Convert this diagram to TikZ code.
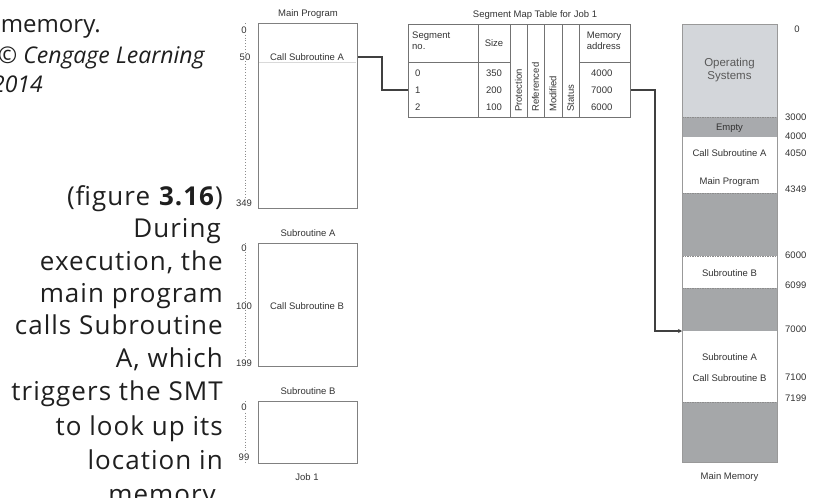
\documentclass[tikz,border=0pt]{standalone}
\usepackage{fontspec}
\setmainfont{Liberation Sans}
\newfontfamily\capfont[LetterSpace=4]{Open Sans}
\newfontfamily\topfont{Open Sans}
\usetikzlibrary{arrows.meta}
\definecolor{osgray}{HTML}{D3D6DA}
\definecolor{emptygray}{HTML}{A8AAAD}
\definecolor{freegray}{HTML}{A5A7A9}
\begin{document}
\begin{tikzpicture}[x=1pt,y=-1pt,
  dtxt/.style={font=\fontsize{9.5}{11}\selectfont, text=black!80, inner sep=1pt},
  captxt/.style={font=\capfont\fontsize{26}{30}\selectfont, anchor=base east, inner sep=0pt, text=black!88},
  capit/.style={font=\topfont\itshape\fontsize{23}{26}\selectfont, inner sep=0pt, text=black!88},
  pbox/.style={draw=black!50, line width=1.2pt, anchor=north west, inner sep=0pt, minimum width=99pt},
  axisline/.style={draw=black!45, dotted, line width=0.9pt},
  ticklbl/.style={dtxt, fill=white, inner sep=0.6pt},
  conn/.style={draw=black!75, line width=1.2pt},
  memlbl/.style={dtxt, anchor=west},
  faintline/.style={draw=black!15, line width=0.5pt},
  rotlbl/.style={dtxt, rotate=90, anchor=west},
  gridl/.style={draw=black!55, line width=0.8pt}
]
\useasboundingbox (0,0) rectangle (817,498);

% ---------- caption text ----------
\node[font=\topfont\fontsize{24}{28}\selectfont, anchor=base east, inner sep=0pt, text=black!88] (m0) at (101,32) {memory.};
\node[capit, anchor=base west] (m1) at (-2,63) {© Cengage Learning};
\node[capit, anchor=base east] (m2) at (43,92) {2014};

\node[captxt] (c0) at (223,205) {(figure \textbf{3.16})};
\node[captxt] (c1) at (221,237) {During};
\node[captxt] (c2) at (223,270) {execution, the};
\node[captxt] (c3) at (223,302) {main program};
\node[captxt] (c4) at (223,334) {calls Subroutine};
\node[captxt] (c5) at (223,367) {A, which};
\node[captxt] (c6) at (223,400) {triggers the SMT};
\node[captxt] (c7) at (223,435) {to look up its};
\node[captxt] (c8) at (223,469) {location in};
\node[captxt] (c9) at (223,503) {memory.};

% ---------- Job 1 programs ----------
% Main Program
\node[dtxt] (mptitle) at (308,14) {Main Program};
\draw[axisline] (245,23) -- (245,207);
\node[pbox, minimum height=185pt] (mp) at (258,23) {};
\draw[faintline] (259,62) -- (356,62);
\node[ticklbl] (mp0) at (244,30) {0};
\node[ticklbl] (mp50) at (245,57) {50};
\node[ticklbl] (mp349) at (244,203) {349};
\node[dtxt] (callA) at (307,57) {Call Subroutine A};

% Subroutine A
\node[dtxt] (satitle) at (308,233) {Subroutine A};
\draw[axisline] (245,243) -- (245,366);
\node[pbox, minimum height=123pt] (sa) at (258,243) {};
\node[ticklbl] (sa0) at (244,248) {0};
\node[ticklbl] (sa100) at (244,306) {100};
\node[ticklbl] (sa199) at (244,363) {199};
\node[dtxt] (callB) at (307,306) {Call Subroutine B};

% Subroutine B
\node[dtxt] (sbtitle) at (308,391) {Subroutine B};
\draw[axisline] (245,401) -- (245,463);
\node[pbox, minimum height=62pt] (sb) at (258,401) {};
\node[ticklbl] (sb0) at (244,407) {0};
\node[ticklbl] (sb99) at (244,457) {99};
\node[dtxt] (job) at (307,477) {Job 1};

% ---------- Segment Map Table ----------
\node[dtxt] (smttitle) at (535,15) {Segment Map Table for Job 1};
\node[draw=black!55, line width=1pt, anchor=north west, inner sep=0pt,
      minimum width=222pt, minimum height=93pt] (smt) at (408,24) {};
\foreach \cx in {478,510,527,544,562,579}
  \draw[gridl] (\cx,24) -- (\cx,117);
\draw[gridl] (408,62) -- (510,62);
\draw[gridl] (579,62) -- (630,62);

\node[dtxt, anchor=west, align=left] (hseg) at (411,41) {Segment\\no.};
\node[dtxt] (hsize) at (494,43) {Size};
\node[dtxt, align=left] (hmem) at (604,41) {Memory\\address};
\node[rotlbl] (hprot) at (518.5,113) {Protection};
\node[rotlbl] (href) at (535.5,113) {Referenced};
\node[rotlbl] (hmod) at (553,113) {Modified};
\node[rotlbl] (hstat) at (570.5,113) {Status};

\node[dtxt, anchor=west] (r0) at (414,73) {0};
\node[dtxt, anchor=west] (r1) at (414,90) {1};
\node[dtxt, anchor=west] (r2) at (414,107) {2};
\node[dtxt] (s0) at (494,73) {350};
\node[dtxt] (s1) at (494,90) {200};
\node[dtxt] (s2) at (494,107) {100};
\node[dtxt, anchor=west] (a0) at (590,73) {4000};
\node[dtxt, anchor=west] (a1) at (590,90) {7000};
\node[dtxt, anchor=west] (a2) at (590,107) {6000};

% ---------- Main Memory ----------
\fill[osgray] (682,24) rectangle (777,117);
\fill[emptygray] (682,117) rectangle (777,137);
\fill[white] (682,137) rectangle (777,193);
\fill[freegray] (682,193) rectangle (777,256);
\fill[white] (682,256) rectangle (777,288);
\fill[freegray] (682,288) rectangle (777,331);
\fill[white] (682,331) rectangle (777,402);
\fill[freegray] (682,402) rectangle (777,462);
\foreach \yy in {117,193,256,288,402}
  \draw[black!45, line width=0.6pt, dash pattern=on 1.5pt off 1pt] (682,\yy) -- (777,\yy);
\node[draw=black!40, line width=0.8pt, anchor=north west, inner sep=0pt,
      minimum width=95pt, minimum height=438pt] (mem) at (682,24) {};

\node[dtxt, font=\fontsize{11.5}{13}\selectfont, text=black!65, align=center] (os) at (729.5,70) {Operating\\Systems};
\node[dtxt] (empty) at (729.5,128) {Empty};
\node[dtxt] (mcallA) at (729.5,153) {Call Subroutine A};
\node[dtxt] (mmain) at (729.5,182) {Main Program};
\node[dtxt] (msubB) at (729.5,273) {Subroutine B};
\node[dtxt] (msubA) at (729.5,357) {Subroutine A};
\node[dtxt] (mcallB) at (729.5,378) {Call Subroutine B};
\node[dtxt] (mmtitle) at (729.5,477) {Main Memory};

\node[dtxt] (l0) at (797,29) {0};
\node[memlbl] (l3000) at (784,117) {3000};
\node[memlbl] (l4000) at (784,136) {4000};
\node[memlbl] (l4050) at (784,153) {4050};
\node[memlbl] (l4349) at (784,189) {4349};
\node[memlbl] (l6000) at (784,255) {6000};
\node[memlbl] (l6099) at (784,285) {6099};
\node[memlbl] (l7000) at (784,329) {7000};
\node[memlbl] (l7100) at (784,377) {7100};
\node[memlbl] (l7199) at (784,398) {7199};

% ---------- connectors ----------
\coordinate (k1) at (382,57);
\draw[conn] (mp.east |- callA) -- (k1) |- (smt.west |- r1);
\coordinate (k2) at (655,90);
\coordinate (k3) at (682,331);
\draw[conn, -{Stealth[length=4pt,width=4pt]}] (smt.east |- r1) -- (k2) |- (k3);
\end{tikzpicture}
\end{document}
